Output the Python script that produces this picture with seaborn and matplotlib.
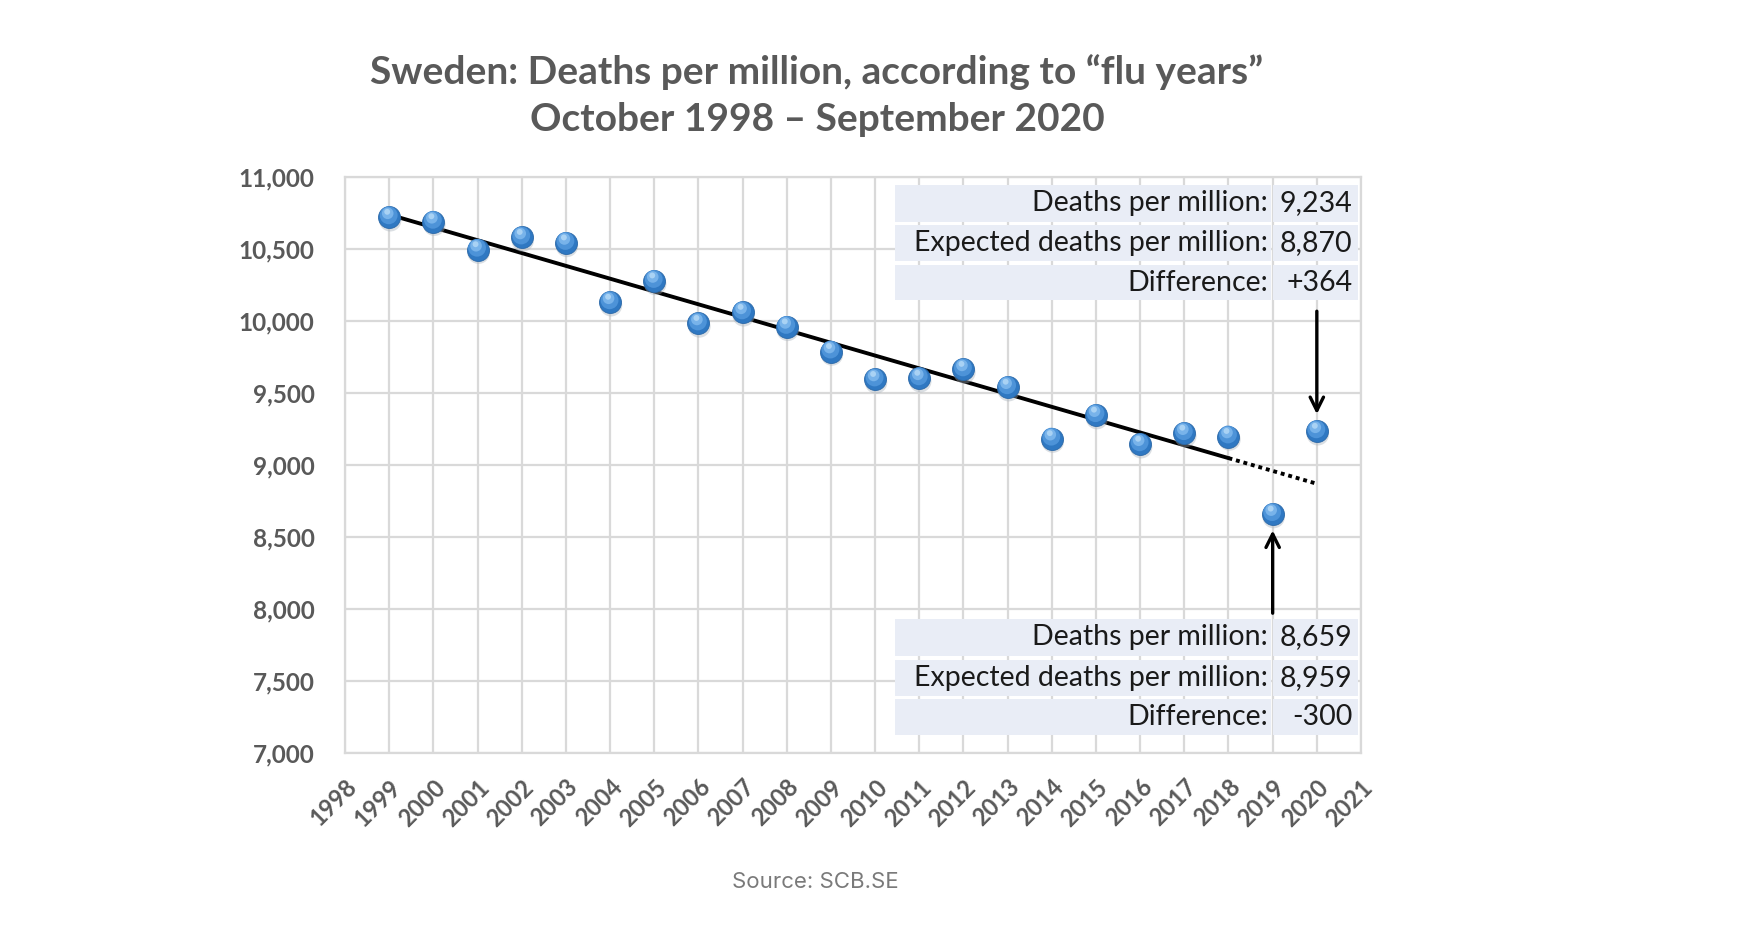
import matplotlib
matplotlib.use("Agg")
import matplotlib.pyplot as plt
import matplotlib.transforms as mtransforms
from matplotlib.patches import Rectangle
import seaborn as sns
import pandas as pd
import numpy as np

# ---------------- data ----------------
years = [1999, 2000, 2001, 2002, 2003, 2004, 2005, 2006, 2007, 2008, 2009,
         2010, 2011, 2012, 2013, 2014, 2015, 2016, 2017, 2018, 2019, 2020]
deaths_per_million = [10720, 10689, 10495, 10580, 10542, 10130, 10278, 9983,
                      10060, 9959, 9788, 9594, 9602, 9664, 9540, 9183, 9346,
                      9144, 9221, 9198, 8659, 9234]
trend_years = [1999, 2018]
trend_values = [10739, 9048]
projection_years = [2018, 2020]
projection_values = [9048, 8870]

top_table_labels = ["Deaths per million:", "Expected deaths per million:", "Difference:"]
top_table_values = ["9,234", "8,870", "+364"]
bottom_table_labels = ["Deaths per million:", "Expected deaths per million:", "Difference:"]
bottom_table_values = ["8,659", "8,959", "-300"]

arrow_2020 = (2020, 10068, 9353)   # x, from, to
arrow_2019 = (2019, 7971, 8546)

x_ticks = list(range(1998, 2022))
y_ticks = [7000, 7500, 8000, 8500, 9000, 9500, 10000, 10500, 11000]

title = "Sweden: Deaths per million, according to \u201cflu years\u201d\nOctober 1998 \u2013 September 2020"
source = "Source: SCB.SE"

# ---------------- style ----------------
sns.set_theme(style="white")
plt.rcParams["font.family"] = ["Lato", "DejaVu Sans"]

GRAY_TXT = "#595959"
GRID = "#d9d9d9"

fig = plt.figure(figsize=(17.55, 9.38), dpi=100)
ax = fig.add_axes([0.1966, 0.1972, 0.5789, 0.6141])

df = pd.DataFrame({"year": years, "deaths": deaths_per_million})
tdf = pd.DataFrame({"year": trend_years, "v": trend_values})
pdf = pd.DataFrame({"year": projection_years, "v": projection_values})

sns.lineplot(data=tdf, x="year", y="v", ax=ax, color="black", lw=2.8,
             zorder=3, legend=False)
sns.lineplot(data=pdf, x="year", y="v", ax=ax, color="black", lw=2.8,
             linestyle=(0, (1, 1)), zorder=3, legend=False)

# sphere-like markers: shadow, base, highlights
shadow_tr = mtransforms.offset_copy(ax.transData, fig=fig, x=1.0, y=-3.0, units="dots")
ax.scatter(years, deaths_per_million, s=260, color="#a7b1bb", alpha=0.4,
           edgecolor="none", transform=shadow_tr, zorder=4)
sns.scatterplot(data=df, x="year", y="deaths", ax=ax, s=250, color="#2f78c2",
                edgecolor="#2a68a8", linewidth=0.6, zorder=5, legend=False)
hl_tr = mtransforms.offset_copy(ax.transData, fig=fig, x=-0.5, y=2.0, units="dots")
ax.scatter(years, deaths_per_million, s=165, color="#4d93d8", edgecolor="none",
           transform=hl_tr, zorder=6)
hl2_tr = mtransforms.offset_copy(ax.transData, fig=fig, x=-1.5, y=4.0, units="dots")
ax.scatter(years, deaths_per_million, s=70, color="#78b3ea", edgecolor="none",
           transform=hl2_tr, zorder=7)
hl3_tr = mtransforms.offset_copy(ax.transData, fig=fig, x=-2.0, y=5.5, units="dots")
ax.scatter(years, deaths_per_million, s=18, color="#a9d2f4", edgecolor="none",
           transform=hl3_tr, zorder=7)

# axes
ax.set_xlim(1998, 2021)
ax.set_ylim(7000, 11000)
ax.set_xticks(x_ticks)
ax.set_yticks(y_ticks)
ax.set_xticklabels([str(t) for t in x_ticks], rotation=45, ha="right",
                   rotation_mode="anchor", fontsize=17, fontweight="bold",
                   color=GRAY_TXT)
ax.set_yticklabels([f"{t:,}" for t in y_ticks], fontsize=17.5, fontweight="bold",
                   color=GRAY_TXT)
ax.tick_params(axis="both", length=0)
ax.tick_params(axis="y", pad=22)
ax.tick_params(axis="x", pad=16)
ax.set_xlabel("")
ax.set_ylabel("")
ax.grid(True, color=GRID, lw=1.6, zorder=0)
ax.set_axisbelow(True)
for sp in ax.spines.values():
    sp.set_color(GRID)
    sp.set_linewidth(1.6)

# tables
def draw_table(labels, values, row_tops, row_bottoms):
    x0, xs, x1 = 0.5416, 0.9115, 0.9967
    for lab, val, yt, yb in zip(labels, values, row_tops, row_bottoms):
        ax.add_patch(Rectangle((x0, yb), xs - x0, yt - yb, transform=ax.transAxes,
                               facecolor="#e9edf6", edgecolor="none", zorder=8))
        ax.add_patch(Rectangle((xs + 0.002, yb), x1 - xs - 0.002, yt - yb,
                               transform=ax.transAxes, facecolor="#e9edf6",
                               edgecolor="none", zorder=8))
        yc = (yt + yb) / 2
        ax.text(xs - 0.003, yc, lab, transform=ax.transAxes, ha="right", va="center",
                fontsize=20.5, color="#1a1a1a", zorder=9)
        ax.text(x1 - 0.005, yc, val, transform=ax.transAxes, ha="right", va="center",
                fontsize=20.5, color="#1a1a1a", zorder=9)

draw_table(top_table_labels, top_table_values,
           [0.9864, 0.9165, 0.8466], [0.9224, 0.8544, 0.7865])
draw_table(bottom_table_labels, bottom_table_values,
           [0.233, 0.161, 0.093], [0.169, 0.099, 0.031])

# arrows
for xa, yf, yt in (arrow_2020, arrow_2019):
    ax.annotate("", xy=(xa, yt), xytext=(xa, yf),
                arrowprops=dict(arrowstyle="->,head_length=0.8,head_width=0.4",
                                color="black", lw=2.4, shrinkA=0, shrinkB=0),
                zorder=9)

fig.text(0.4655, 0.898, title, ha="center", va="center", fontsize=28,
         fontweight="bold", color=GRAY_TXT, linespacing=1.42)
fig.text(0.4645, 0.0595, source, ha="center", va="center", fontsize=16,
         color="#7a7a7a", family=["Inter", "DejaVu Sans"])

fig.savefig("out.png", dpi=100, facecolor="white")
